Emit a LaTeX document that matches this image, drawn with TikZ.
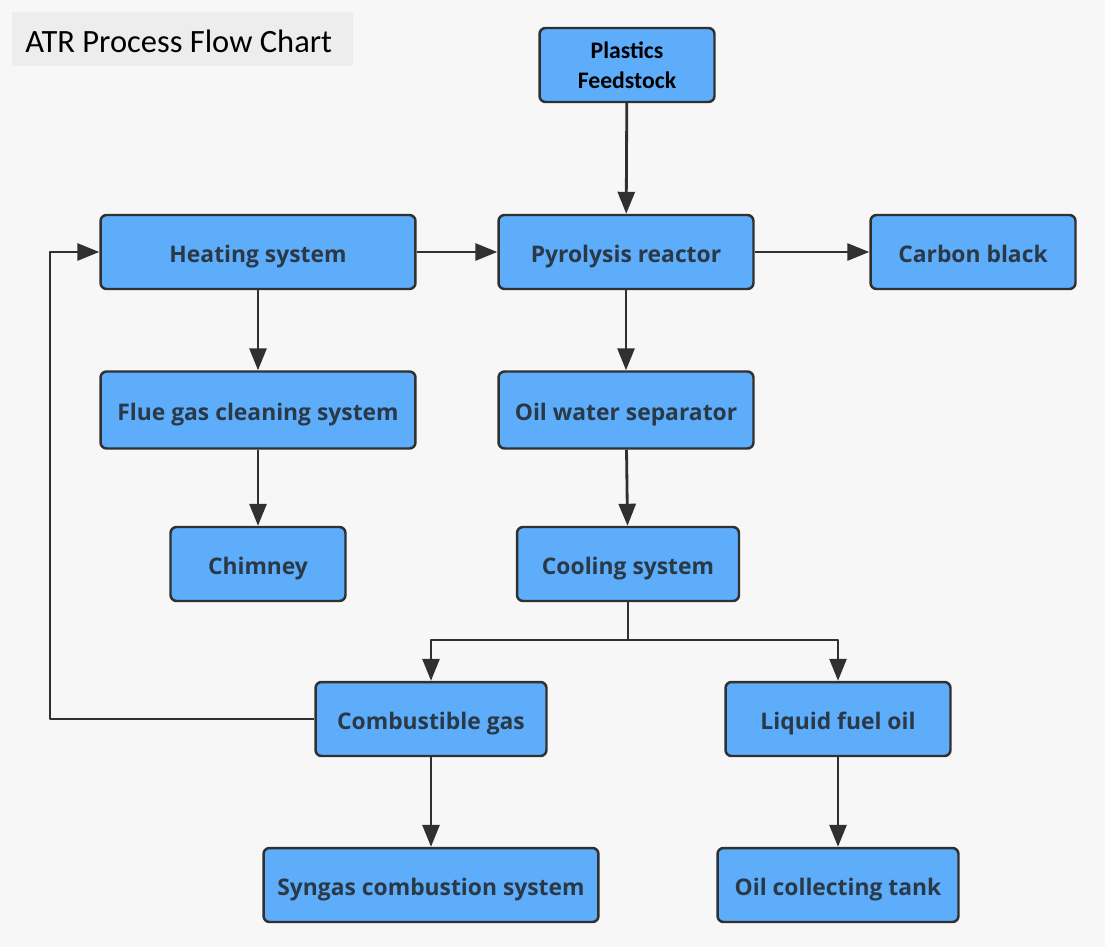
\documentclass[tikz,border=0pt]{standalone}
\usepackage{fontspec}
\setmainfont{Carlito}
\newfontfamily\boxfont{Open Sans}
\usetikzlibrary{arrows.meta}
\definecolor{boxblue}{HTML}{5DADFB}
\definecolor{boxtext}{HTML}{2B3846}
\definecolor{linegray}{HTML}{303030}
\definecolor{bggray}{HTML}{F7F7F7}
\definecolor{titlegray}{HTML}{EDEDED}
\begin{document}
\begin{tikzpicture}[x=0.02cm, y=-0.02cm, line join=round, >={Triangle[length=0.44cm,width=0.34cm]},
 box/.style={draw=linegray, line width=1.4pt, fill=boxblue, rounded corners=0.12cm, minimum height=1.48cm, inner sep=0pt, text height=12.5pt, text depth=0pt, font=\boxfont\bfseries\fontsize{13}{15}\selectfont, text=boxtext},
 flow/.style={->, draw=linegray, line width=1.6pt}]
 % background and title
 \fill[bggray] (0,0) rectangle (1105,947);
 \fill[titlegray] (12,12) rectangle (353,66);
 \node[anchor=west, inner sep=0pt, font=\fontsize{18.5}{22}\selectfont] (title) at (25,41) {ATR Process Flow Chart};
 % boxes
 \node[box, minimum width=3.5cm, align=center, text height=, text depth=, text=black, font=\bfseries\fontsize{13.5}{17}\selectfont] (feed) at (627,65) {Plastics\\Feedstock};
 \node[box, minimum width=6.3cm] (heat) at (258,252) {Heating system};
 \node[box, minimum width=5.1cm] (pyro) at (626,252) {Pyrolysis reactor};
 \node[box, minimum width=4.1cm] (carbon) at (973,252) {Carbon black};
 \node[box, minimum width=6.3cm, minimum height=1.54cm] (flue) at (258,410) {Flue gas cleaning system};
 \node[box, minimum width=5.1cm, minimum height=1.54cm] (sep) at (626,410) {Oil water separator};
 \node[box, minimum width=3.5cm] (chimney) at (258,564) {Chimney};
 \node[box, minimum width=4.44cm] (cool) at (628,564) {Cooling system};
 \node[box, minimum width=4.62cm] (gas) at (431,719) {Combustible gas};
 \node[box, minimum width=4.5cm] (oil) at (838,719) {Liquid fuel oil};
 \node[box, minimum width=6.7cm] (syngas) at (431,885) {Syngas combustion system};
 \node[box, minimum width=4.82cm] (tank) at (838,885) {Oil collecting tank};
 % connectors
 \coordinate (split) at (628,640);
 \coordinate (back) at (50,719);
 \draw[flow] (feed) -- (pyro);
 \draw[flow] (heat) -- (pyro);
 \draw[flow] (pyro) -- (carbon);
 \draw[flow] (heat) -- (flue);
 \draw[flow] (pyro) -- (sep);
 \draw[flow] (flue) -- (chimney);
 \draw[flow] (sep) -- (cool);
 \draw[flow] (cool) -- (split) -| (gas);
 \draw[flow] (split) -| (oil);
 \draw[flow] (gas) -- (syngas);
 \draw[flow] (oil) -- (tank);
 \draw[flow] (gas.west) -- (back) |- (heat.west);
\end{tikzpicture}
\end{document}
